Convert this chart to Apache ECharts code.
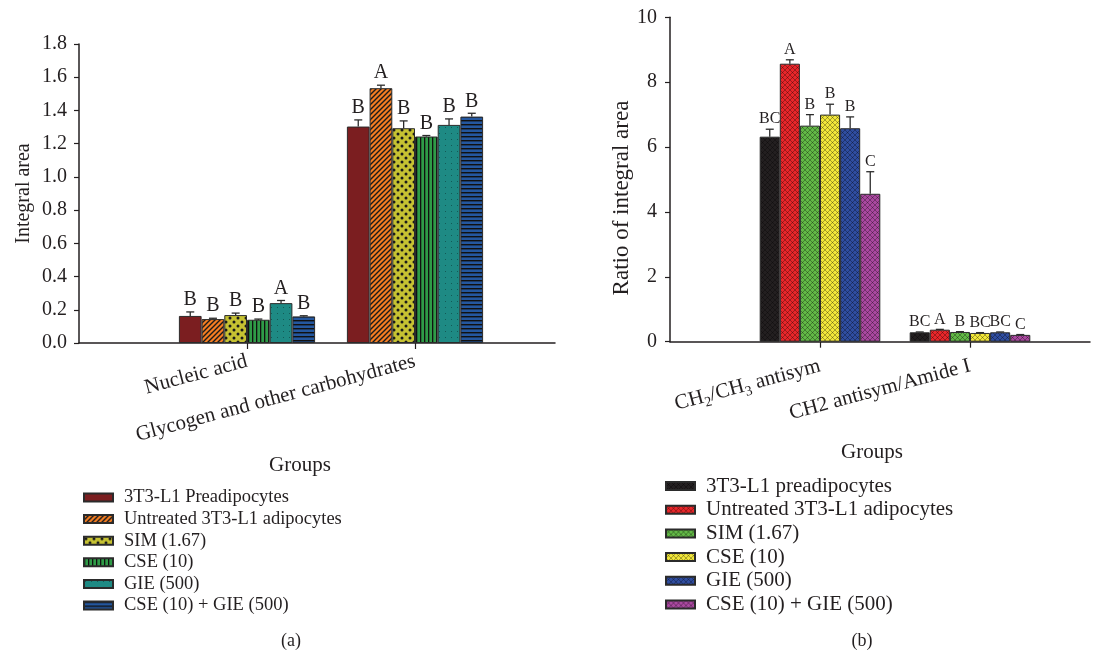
<!DOCTYPE html>
<html>
<head>
<meta charset="utf-8">
<script src="https://cdn.jsdelivr.net/npm/echarts@6/dist/echarts.min.js"></script>
<style>
  html, body { margin: 0; padding: 0; background: #fff; }
  #chart { width: 1112px; height: 651px; }
</style>
</head>
<body>
<div id="chart"></div>
<script>
// ---------- panel (a) ----------
const categoriesA = ['Nucleic acid', 'Glycogen and other carbohydrates'];
const groupsA = ['3T3-L1 Preadipocytes', 'Untreated 3T3-L1 adipocytes', 'SIM (1.67)', 'CSE (10)', 'GIE (500)', 'CSE (10) + GIE (500)'];
// one row per group: [Nucleic acid, Glycogen]
const valuesA = [
  [0.163, 1.303],
  [0.144, 1.534],
  [0.168, 1.293],
  [0.140, 1.243],
  [0.240, 1.313],
  [0.160, 1.363]
];
const errorsA = [
  [0.024, 0.040],
  [0.005, 0.018],
  [0.012, 0.044],
  [0.004, 0.006],
  [0.016, 0.036],
  [0.004, 0.020]
];
const lettersA = [['B', 'B'], ['B', 'A'], ['B', 'B'], ['B', 'B'], ['A', 'B'], ['B', 'B']];
const yMinA = 0, yMaxA = 1.8, yStepA = 0.2;

// ---------- panel (b) ----------
const categoriesB = ['CH{sub|2}/CH{sub|3} antisym', 'CH2 antisym/Amide I'];
const groupsB = ['3T3-L1 preadipocytes', 'Untreated 3T3-L1 adipocytes', 'SIM (1.67)', 'CSE (10)', 'GIE (500)', 'CSE (10) + GIE (500)'];
const valuesB = [
  [6.32, 0.29],
  [8.57, 0.37],
  [6.66, 0.30],
  [7.00, 0.27],
  [6.58, 0.29],
  [4.56, 0.21]
];
const errorsB = [
  [0.23, 0.01],
  [0.12, 0.01],
  [0.34, 0.01],
  [0.32, 0.01],
  [0.35, 0.01],
  [0.68, 0.01]
];
const lettersB = [['BC', 'BC'], ['A', 'A'], ['B', 'B'], ['B', 'BC'], ['B', 'BC'], ['C', 'C']];
const yMinB = 0, yMaxB = 10, yStepB = 2;

// ---------- layout helpers ----------
// categories sit on evenly spaced slots of a boundaryGap:false axis
const slotCountA = 18, catSlotsA = [6, 12];
const slotCountB = 15, catSlotsB = [5, 10];
const barWA = 22.7, barWB = 20.1;
const FONT = 'Liberation Serif';
const INK = '#231f20';

function pattern(bg, size, draw) {
  const c = document.createElement('canvas');
  c.width = size; c.height = size;
  const ctx = c.getContext('2d');
  ctx.fillStyle = bg;
  ctx.fillRect(0, 0, size, size);
  draw(ctx, size);
  return { image: c, repeat: 'repeat' };
}

function crossHatch(bg) {
  return pattern(bg, 5, (ctx, s) => {
    ctx.strokeStyle = 'rgba(0,0,0,0.45)';
    ctx.lineWidth = 0.7;
    ctx.beginPath();
    ctx.moveTo(0, 0); ctx.lineTo(s, s);
    ctx.moveTo(0, s); ctx.lineTo(s, 0);
    ctx.stroke();
  });
}

const fillsA = [
  '#7b1e20',
  pattern('#f47d22', 5, (ctx, s) => {
    ctx.strokeStyle = '#1a1a1a'; ctx.lineWidth = 1.4;
    ctx.beginPath();
    ctx.moveTo(-1, s + 1); ctx.lineTo(s + 1, -1);
    ctx.moveTo(-1, 1); ctx.lineTo(1, -1);
    ctx.moveTo(s - 1, s + 1); ctx.lineTo(s + 1, s - 1);
    ctx.stroke();
  }),
  pattern('#c6c232', 8, (ctx) => {
    ctx.fillStyle = '#1a1a1a';
    ctx.beginPath(); ctx.arc(2, 2, 1.5, 0, Math.PI * 2); ctx.fill();
    ctx.beginPath(); ctx.arc(6, 6, 1.5, 0, Math.PI * 2); ctx.fill();
  }),
  pattern('#2f9b47', 4, (ctx, s) => {
    ctx.fillStyle = '#111';
    ctx.fillRect(0, 0, 1.3, s);
  }),
  pattern('#1e8a84', 6, (ctx) => {
    ctx.fillStyle = 'rgba(0,0,0,0.35)';
    ctx.fillRect(1, 1, 1, 1);
  }),
  pattern('#24579f', 4, (ctx, s) => {
    ctx.fillStyle = '#111';
    ctx.fillRect(0, 0, s, 1.4);
  })
];
const fillsB = ['#231f20', '#e8262a', '#62b846', '#f2e73a', '#2f4da0', '#a9489f'].map(crossHatch);

function slotLabels(count, slots, cats) {
  const arr = new Array(count).fill('');
  slots.forEach((s, i) => { arr[s] = cats[i]; });
  return arr;
}
const labelsA = slotLabels(slotCountA, catSlotsA, categoriesA);
const labelsB = slotLabels(slotCountB, catSlotsB, categoriesB);

function barData(count, slots, row) {
  const arr = new Array(count).fill(null);
  slots.forEach((s, i) => { arr[s] = row[i]; });
  return arr;
}

function errorData(slots, vals, errs, letters) {
  const data = [], text = [];
  vals.forEach((row, g) => row.forEach((v, c) => {
    data.push([slots[c], v, errs[g][c], g]);
    text.push(letters[g][c]);
  }));
  return { data, text };
}
const errA = errorData(catSlotsA, valuesA, errorsA, lettersA);
const errB = errorData(catSlotsB, valuesB, errorsB, lettersB);

function errorRender(barW, text, fontSize) {
  return function (params, api) {
    const slot = api.value(0), v = api.value(1), e = api.value(2), g = api.value(3);
    const p0 = api.coord([slot, v]);
    const p1 = api.coord([slot, v + e]);
    const x = p0[0] + (g - 2.5) * barW;
    const ls = { stroke: '#2b2b2b', lineWidth: 1.3 };
    return {
      type: 'group',
      children: [
        { type: 'line', shape: { x1: x, y1: p0[1], x2: x, y2: p1[1] }, style: ls },
        { type: 'line', shape: { x1: x - 4, y1: p1[1], x2: x + 4, y2: p1[1] }, style: ls },
        {
          type: 'text',
          style: {
            x: x, y: p1[1] - 2, text: text[params.dataIndex],
            align: 'center', verticalAlign: 'bottom',
            fontSize: fontSize, fontFamily: FONT, fill: INK
          }
        }
      ]
    };
  };
}

function xAxisOf(gridIndex, labels, slots, margin) {
  return {
    type: 'category', gridIndex, data: labels.map((_, i) => 's' + i),
    boundaryGap: false,
    axisLine: { lineStyle: { color: INK, width: 1.5 } },
    axisTick: { length: 6, lineStyle: { color: INK, width: 1.2 }, interval: (i) => slots.includes(i) },
    axisLabel: {
      interval: (i) => slots.includes(i),
      formatter: (v, i) => labels[i],
      rotate: 15, margin: margin,
      fontFamily: FONT, fontSize: 21, color: INK,
      rich: { sub: { fontFamily: FONT, fontSize: 14, verticalAlign: 'top', padding: [10, 0, 0, 0], lineHeight: 14, color: INK } }
    }
  };
}

function yAxisOf(gridIndex, min, max, step, digits, name, gap, margin) {
  return {
    type: 'value', gridIndex, min, max, interval: step,
    name, nameLocation: 'middle', nameGap: gap,
    nameTextStyle: { fontFamily: FONT, fontSize: 20, color: INK },
    axisLine: { show: true, lineStyle: { color: INK, width: 1.5 } },
    axisTick: { show: true, length: 5, lineStyle: { color: INK, width: 1.2 } },
    axisLabel: { margin: margin, fontFamily: FONT, fontSize: 20, color: INK, formatter: (v) => v.toFixed(digits) },
    splitLine: { show: false }
  };
}

const barSeries = [];
groupsA.forEach((name, g) => barSeries.push({
  type: 'bar', name: 'a:' + name, xAxisIndex: 0, yAxisIndex: 0,
  data: barData(slotCountA, catSlotsA, valuesA[g]),
  barWidth: barWA, barGap: '0%',
  itemStyle: { color: fillsA[g], borderColor: '#2b2b2b', borderWidth: 1 },
  emphasis: { disabled: true }
}));
groupsB.forEach((name, g) => barSeries.push({
  type: 'bar', name: 'b:' + name, xAxisIndex: 1, yAxisIndex: 1,
  data: barData(slotCountB, catSlotsB, valuesB[g]),
  barWidth: barWB, barGap: '0%',
  itemStyle: { color: fillsB[g], borderColor: '#2b2b2b', borderWidth: 1 },
  emphasis: { disabled: true }
}));

function legendOf(left, top, gap, fontSize, names) {
  return {
    orient: 'vertical', padding: 0, selectedMode: false,
    icon: 'rect', itemWidth: 29, itemHeight: 8,
    left, top, itemGap: gap, data: names,
    formatter: (n) => n.slice(2),
    textStyle: { fontFamily: FONT, fontSize: fontSize, color: INK, padding: [0, 0, 0, 6] }
  };
}

const chart = echarts.init(document.getElementById('chart'));
chart.setOption({
  animation: false,
  backgroundColor: '#fff',
  grid: [
    { left: 79, top: 44, width: 476, height: 299 },
    { left: 670, top: 17.3, width: 420, height: 324.4 }
  ],
  xAxis: [xAxisOf(0, labelsA, catSlotsA, 18), xAxisOf(1, labelsB, catSlotsB, 24)],
  yAxis: [
    yAxisOf(0, yMinA, yMaxA, yStepA, 1, 'Integral area', 45, 12),
    yAxisOf(1, yMinB, yMaxB, yStepB, 0, '', 37, 13)
  ],
  legend: [
    legendOf(83, 488, 2.6, 18.5, groupsA.map((n) => 'a:' + n)),
    legendOf(665, 475.5, 2.7, 21, groupsB.map((n) => 'b:' + n))
  ],
  graphic: [
    { type: 'text', x: 622, y: 198, rotation: Math.PI / 2, style: { text: 'Ratio of integral area', align: 'center', verticalAlign: 'middle', fontFamily: FONT, fontSize: 23, fill: INK } },
    { type: 'text', style: { x: 300, y: 465, text: 'Groups', align: 'center', verticalAlign: 'middle', fontFamily: FONT, fontSize: 21, fill: INK } },
    { type: 'text', style: { x: 872, y: 452, text: 'Groups', align: 'center', verticalAlign: 'middle', fontFamily: FONT, fontSize: 21, fill: INK } },
    { type: 'text', style: { x: 291, y: 641, text: '(a)', align: 'center', verticalAlign: 'middle', fontFamily: FONT, fontSize: 18, fill: INK } },
    { type: 'text', style: { x: 862, y: 641, text: '(b)', align: 'center', verticalAlign: 'middle', fontFamily: FONT, fontSize: 18, fill: INK } }
  ],
  series: barSeries.concat([
    {
      type: 'custom', xAxisIndex: 0, yAxisIndex: 0, z: 5, silent: true,
      data: errA.data, renderItem: errorRender(barWA, errA.text, 20)
    },
    {
      type: 'custom', xAxisIndex: 1, yAxisIndex: 1, z: 5, silent: true,
      data: errB.data, renderItem: errorRender(barWB, errB.text, 16)
    }
  ])
});
</script>
</body>
</html>
